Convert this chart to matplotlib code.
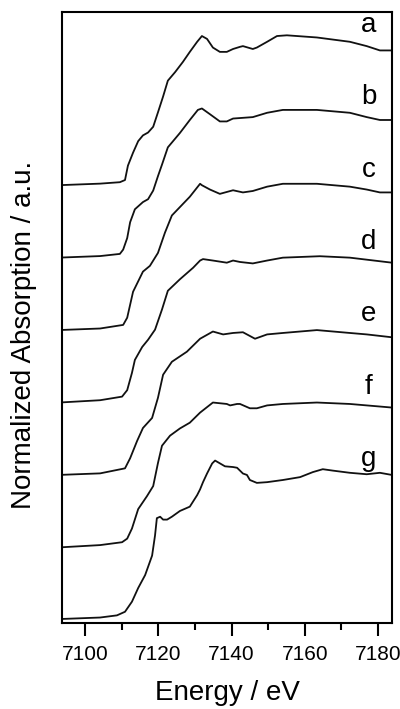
import matplotlib
matplotlib.use("Agg")
import matplotlib.pyplot as plt
from matplotlib.ticker import MultipleLocator

plt.rcParams["font.family"] = ["Liberation Sans", "DejaVu Sans"]

# XANES spectra (energy in eV, normalized absorption)
labels = ["a", "b", "c", "d", "e", "f", "g"]
offset_step = 0.503

e_a = [7093.7, 7104.1, 7109.5, 7110.9, 7111.7, 7113.1, 7114.5, 7115.8, 7117.2, 7118.6,
       7119.9, 7121.3, 7122.6, 7124.6, 7126.7, 7128.6, 7130.6, 7131.9, 7133.3, 7134.9,
       7136.8, 7138.7, 7140.4, 7142.3, 7143.1, 7145.8, 7146.9, 7149.7, 7152.4, 7155.1,
       7163.3, 7172.3, 7176.9, 7180.5, 7183.8]
a_vals = [-0.005, 0.005, 0.015, 0.03, 0.13, 0.22, 0.30, 0.34, 0.36, 0.40,
          0.50, 0.61, 0.72, 0.78, 0.85, 0.92, 0.99, 1.03, 1.01, 0.95,
          0.92, 0.92, 0.94, 0.955, 0.96, 0.94, 0.95, 0.99, 1.03, 1.035,
          1.02, 0.99, 0.96, 0.93, 0.93]

e_b = [7093.7, 7104.1, 7109.5, 7110.4, 7111.5, 7112.3, 7113.6, 7115.8, 7117.2, 7118.6,
       7119.9, 7121.0, 7122.6, 7125.9, 7128.6, 7130.8, 7131.9, 7134.1, 7136.8, 7138.7,
       7140.4, 7143.1, 7145.8, 7149.7, 7154.0, 7163.3, 7172.3, 7176.9, 7180.5, 7183.8]
b_vals = [-0.005, 0.005, 0.02, 0.05, 0.13, 0.24, 0.33, 0.38, 0.40, 0.46,
          0.56, 0.64, 0.76, 0.86, 0.95, 1.02, 1.03, 0.99, 0.94, 0.94,
          0.96, 0.965, 0.97, 1.0, 1.02, 1.02, 1.0, 0.97, 0.95, 0.95]

e_c = [7093.7, 7104.1, 7110.4, 7111.5, 7113.1, 7115.8, 7117.7, 7119.9, 7121.8, 7123.7,
       7128.6, 7131.4, 7131.9, 7134.1, 7136.8, 7140.4, 7143.1, 7145.8, 7149.7, 7154.0,
       7163.3, 7172.3, 7176.9, 7180.5, 7183.8]
c_vals = [-0.005, 0.005, 0.03, 0.08, 0.26, 0.40, 0.44, 0.53, 0.67, 0.79,
          0.92, 1.01, 1.0, 0.97, 0.94, 0.965, 0.95, 0.96, 0.99, 1.01,
          1.01, 0.99, 0.97, 0.95, 0.95]

e_d = [7093.7, 7104.1, 7110.1, 7111.5, 7112.8, 7113.6, 7115.6, 7117.2, 7119.1, 7121.0,
       7122.6, 7125.9, 7129.5, 7131.4, 7132.2, 7134.9, 7138.7, 7140.4, 7142.3, 7145.8,
       7149.7, 7154.0, 7164.1, 7172.3, 7183.8]
d_vals = [-0.005, 0.01, 0.035, 0.08, 0.20, 0.29, 0.38, 0.43, 0.50, 0.64,
          0.77, 0.85, 0.93, 0.98, 0.99, 0.98, 0.965, 0.98, 0.97, 0.96,
          0.98, 1.0, 1.01, 1.0, 0.965]

e_e = [7093.7, 7104.1, 7110.9, 7112.3, 7114.2, 7115.8, 7118.3, 7119.9, 7121.3, 7123.7,
       7127.8, 7131.4, 7134.9, 7137.7, 7140.4, 7143.1, 7146.4, 7149.7, 7154.0, 7163.3,
       7172.3, 7176.9, 7183.8]
e_vals = [-0.005, 0.005, 0.04, 0.11, 0.23, 0.32, 0.39, 0.53, 0.69, 0.78,
          0.85, 0.94, 0.99, 0.97, 0.98, 0.985, 0.94, 0.97, 0.98, 1.0,
          0.98, 0.97, 0.95]

e_f = [7093.7, 7104.1, 7110.1, 7111.5, 7112.8, 7114.5, 7116.9, 7118.6, 7119.9, 7121.0,
       7123.2, 7125.9, 7128.6, 7131.4, 7134.9, 7138.7, 7139.6, 7141.5, 7142.3, 7145.0,
       7146.9, 7149.7, 7154.0, 7163.3, 7172.3, 7183.8]
f_vals = [-0.005, 0.01, 0.03, 0.055, 0.125, 0.26, 0.35, 0.42, 0.58, 0.70,
          0.77, 0.82, 0.86, 0.93, 1.0, 0.99, 0.98, 0.99, 0.99, 0.96,
          0.96, 0.98, 0.99, 1.0, 0.99, 0.965]

e_g = [7093.7, 7104.1, 7108.7, 7110.9, 7112.8, 7114.5, 7116.4, 7118.3, 7119.1, 7119.6,
       7120.5, 7121.3, 7122.4, 7123.7, 7125.9, 7128.6, 7130.6, 7131.4, 7132.2, 7133.3,
       7134.7, 7135.5, 7138.2, 7140.4, 7141.5, 7143.1, 7144.2, 7145.0, 7146.9, 7149.7,
       7154.0, 7158.7, 7162.2, 7164.9, 7167.7, 7172.3, 7176.9, 7180.5, 7183.8]
g_vals = [0.0, 0.01, 0.025, 0.05, 0.12, 0.215, 0.305, 0.44, 0.58, 0.70,
          0.71, 0.69, 0.69, 0.71, 0.75, 0.78, 0.86, 0.90, 0.95, 1.01,
          1.08, 1.10, 1.06, 1.055, 1.05, 1.01, 1.0, 0.965, 0.945, 0.95,
          0.965, 0.985, 1.02, 1.04, 1.03, 1.015, 1.005, 1.015, 1.0]

energies = [e_a, e_b, e_c, e_d, e_e, e_f, e_g]
spectra = [a_vals, b_vals, c_vals, d_vals, e_vals, f_vals, g_vals]

fig = plt.figure(figsize=(4.0, 7.09), dpi=100)
ax = fig.add_axes([0.155, 0.1213, 0.825, 0.8618])

n = len(labels)
for i, (lab, en, sp) in enumerate(zip(labels, energies, spectra)):
    off = (n - 1 - i) * offset_step
    ax.plot(en, [v + off for v in sp], color="#111111", lw=1.3,
            solid_joinstyle="round")
    ax.text(7177.5, off + 1.06, lab, fontsize=20, ha="center", va="baseline")

ax.set_xlim(7093.7, 7183.8)
ax.set_ylim(-0.028, 4.215)
ax.xaxis.set_major_locator(MultipleLocator(20))
ax.xaxis.set_minor_locator(MultipleLocator(10))
ax.tick_params(axis="x", which="major", direction="out", length=9, width=1.5,
               labelsize=15, pad=7)
ax.tick_params(axis="x", which="minor", direction="out", length=5, width=1.5)
ax.tick_params(axis="y", left=False, labelleft=False)
for s in ax.spines.values():
    s.set_linewidth(1.5)

fig.text(0.5675, 0.0127, "Energy / eV", fontsize=20, ha="center", va="baseline")
fig.text(0.06, 1 - 335 / 709, "Normalized Absorption / a.u.", fontsize=20,
         rotation=90, ha="center", va="center")

fig.savefig("out.png", dpi=100)
